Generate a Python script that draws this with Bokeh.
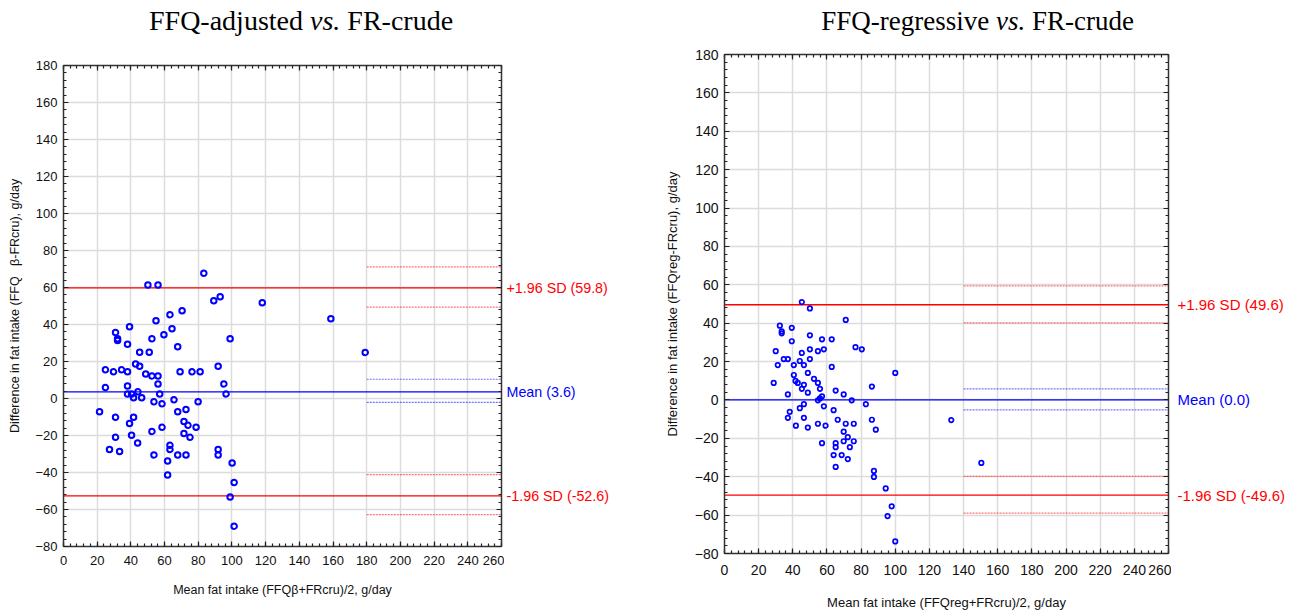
from bokeh.plotting import figure
from bokeh.layouts import row, column
from bokeh.models import LinearAxis, SingleIntervalTicker, Range1d, ColumnDataSource, Grid
from bokeh.core.properties import value
from bokeh.embed import file_html
from bokeh.resources import INLINE

# ---------------- data ----------------
left_mean = [83.3, 50.1, 56.1, 89.2, 93.0, 118.0, 158.7, 63.2, 70.4, 54.9, 39.2, 64.4, 30.9, 32.1, 32.1,
             38.0, 52.5, 59.6, 98.9, 67.8, 45.2, 50.9, 42.8, 45.2, 24.9, 29.7, 34.5, 38.0, 48.8, 52.5,
             56.1, 56.1, 69.2, 76.3, 81.1, 91.8, 95.2, 96.5, 24.9, 38.0, 38.0, 40.4, 44.2, 41.6, 46.4,
             57.1, 53.7, 58.5, 65.6, 79.9, 21.4, 30.9, 41.6, 39.2, 67.8, 72.7, 71.5, 73.9, 78.7, 58.5,
             52.5, 71.5, 75.1, 40.4, 30.9, 44.0, 27.3, 33.3, 63.2, 63.2, 53.7, 67.8, 72.7, 91.8, 91.8,
             61.8, 61.8, 100.1, 101.3, 98.9, 101.3, 179.1]
left_diff = [67.7, 61.4, 61.4, 52.8, 55.0, 51.7, 43.1, 45.3, 47.4, 42.0, 38.8, 37.7, 35.7, 32.3, 31.4,
             29.3, 32.3, 34.5, 32.3, 28.0, 25.0, 25.0, 18.7, 17.4, 15.5, 14.4, 15.5, 14.4, 13.3, 12.2,
             12.2, 7.9, 14.4, 14.4, 14.4, 17.4, 7.9, 2.5, 5.9, 6.8, 2.5, 2.5, 3.6, 0.4, 0.4,
             2.5, -1.8, -2.9, -0.7, -1.8, -7.2, -10.2, -10.2, -13.5, -7.2, -5.9, -12.4, -14.5, -15.6, -15.6,
             -17.8, -18.9, -21.0, -19.9, -21.0, -24.1, -27.5, -28.6, -25.3, -27.5, -30.5, -30.5, -30.5, -27.5, -30.5,
             -33.8, -41.3, -34.9, -45.4, -53.2, -69.0, 24.9]
left_levels = [59.8, 3.6, -52.6]          # +1.96 SD, mean, -1.96 SD
left_ci = [(71.2, 49.4), (10.4, -2.1), (-41.2, -62.8)]
left_ci_start = 180

right_mean = [45.3, 50.0, 71.0, 32.4, 33.5, 33.5, 39.4, 39.4, 50.0, 57.1, 62.8, 30.0, 45.3, 50.0, 54.7,
              58.2, 76.7, 80.4, 31.2, 34.7, 37.1, 40.6, 44.1, 46.5, 50.0, 62.8, 40.6, 41.6, 42.9, 28.8,
              48.8, 52.4, 54.7, 46.5, 45.3, 55.9, 48.8, 37.1, 57.1, 55.9, 54.7, 65.1, 69.8, 74.5, 82.8,
              86.3, 100.0, 46.5, 58.2, 44.1, 63.9, 38.2, 37.1, 46.5, 66.3, 86.3, 41.8, 48.8, 54.7, 59.2,
              71.0, 75.7, 88.6, 69.8, 72.2, 69.8, 75.7, 57.1, 65.1, 65.1, 73.4, 63.9, 68.6, 72.2, 65.1,
              87.5, 87.5, 94.4, 97.9, 95.5, 100.0, 132.8, 150.4]
right_diff = [51.0, 47.7, 41.7, 38.7, 35.7, 34.7, 37.6, 30.6, 33.7, 31.6, 31.6, 25.4, 24.5, 26.4, 25.4,
              26.4, 27.5, 26.4, 18.2, 21.3, 21.3, 18.2, 20.3, 18.2, 21.3, 17.2, 13.0, 9.9, 8.9, 8.9,
              14.1, 11.0, 8.9, 7.9, 5.8, 5.8, 3.8, 2.9, 1.9, 0.8, -0.2, 4.9, 2.9, -0.2, -2.2,
              7.0, 14.1, -2.2, -3.3, -4.3, -5.3, -6.2, -9.3, -9.3, -10.3, -10.3, -13.4, -14.4, -12.4, -13.4,
              -12.4, -12.4, -15.5, -16.5, -19.4, -21.5, -21.5, -22.5, -22.5, -24.6, -24.6, -28.7, -28.7, -30.8, -34.9,
              -37.0, -40.1, -46.1, -55.4, -60.5, -73.7, -10.5, -32.8]
right_levels = [49.6, 0.0, -49.6]
right_ci = [(59.4, 40.2), (5.8, -5.2), (-39.8, -59.0)]
right_ci_start = 140

level_texts_left = ["+1.96 SD (59.8)", "Mean (3.6)", "-1.96 SD (-52.6)"]
level_texts_right = ["+1.96 SD (49.6)", "Mean (0.0)", "-1.96 SD (-49.6)"]
level_colors = ["#ff0000", "#0000ff", "#ff0000"]

titles_left = ["FFQ-adjusted", "vs.", "FR-crude"]
titles_right = ["FFQ-regressive", "vs.", "FR-crude"]

X_RANGE = (0, 260)
Y_RANGE = (-80, 180)

SANS = "Liberation Sans"
SERIF = "Liberation Serif"


def style_axis(ax, show_labels, tick_fs, lab_fs):
    ax.ticker = SingleIntervalTicker(interval=20, num_minor_ticks=5)
    ax.axis_line_color = "#333333"
    ax.axis_line_width = 1.5
    ax.major_tick_in = 5
    ax.major_tick_out = 0
    ax.minor_tick_in = 3
    ax.minor_tick_out = 0
    ax.major_tick_line_color = "#222222"
    ax.minor_tick_line_color = "#222222"
    ax.major_tick_line_width = 1.2
    ax.minor_tick_line_width = 1.2
    ax.major_label_text_font = SANS
    ax.major_label_text_color = "#111111"
    if show_labels:
        ax.major_label_text_font_size = f"{tick_fs}px"
    else:
        ax.major_label_text_font_size = "1px"
        ax.major_label_text_alpha = 0
        ax.major_label_standoff = 0
    ax.axis_label_text_font = SANS
    ax.axis_label_text_font_style = "normal"
    ax.axis_label_text_font_size = f"{lab_fs}px"
    ax.axis_label_text_color = "#111111"


def make_panel(xs, ys, levels, ci, ci_start, texts, title_parts, xlabel, ylabel,
               bl, fw, br, bt, fh, bb, lab_w, lab_off, title_h, title_base, vs_left,
               tick_fs, lab_fs, lvl_fs, marker_size, marker_lw, tfs,
               xt_standoff, xl_standoff, yl_standoff):
    yr = Range1d(*Y_RANGE)
    p = figure(output_backend="svg", toolbar_location=None,
               width=bl + fw + br, height=bt + fh + bb,
               min_border_left=bl, min_border_right=br,
               min_border_top=bt, min_border_bottom=bb,
               x_range=Range1d(*X_RANGE), y_range=yr,
               x_axis_type=None, y_axis_type=None,
               background_fill_color="white", border_fill_color="white",
               outline_line_color=None)

    bottom = LinearAxis(axis_label=xlabel)
    style_axis(bottom, True, tick_fs, lab_fs)
    bottom.major_label_standoff = xt_standoff
    bottom.axis_label_standoff = xl_standoff
    left = LinearAxis(axis_label=ylabel)
    style_axis(left, True, tick_fs, lab_fs)
    left.major_label_standoff = 6
    left.axis_label_standoff = yl_standoff
    top = LinearAxis()
    style_axis(top, False, tick_fs, lab_fs)
    right = LinearAxis()
    style_axis(right, False, tick_fs, lab_fs)
    p.add_layout(bottom, "below")
    p.add_layout(left, "left")
    p.add_layout(top, "above")
    p.add_layout(right, "right")

    p.add_layout(Grid(dimension=0, ticker=bottom.ticker, grid_line_color="#dcdcdc", grid_line_width=1.5))
    p.add_layout(Grid(dimension=1, ticker=left.ticker, grid_line_color="#dcdcdc", grid_line_width=1.5))

    # CI dashed segments
    seg_y = [v for pair in ci for v in pair]
    seg_c = [c for c in level_colors for _ in range(2)]
    seg_src = ColumnDataSource(dict(x0=[ci_start] * len(seg_y), x1=[X_RANGE[1]] * len(seg_y),
                                    y=seg_y, c=seg_c))
    p.segment(x0="x0", y0="y", x1="x1", y1="y", source=seg_src, line_color="c",
              line_alpha=0.55, line_width=1.2, line_dash="2 1")

    # mean and limits of agreement
    lv_src = ColumnDataSource(dict(x0=[X_RANGE[0]] * 3, x1=[X_RANGE[1]] * 3, y=levels, c=level_colors))
    p.segment(x0="x0", y0="y", x1="x1", y1="y", source=lv_src, line_color="c", line_width=1.3)

    p.scatter(xs, ys, marker="circle", size=marker_size, fill_color=None,
              line_color="#0000ff", line_width=marker_lw)

    # label strip on the right, sharing the y range
    q = figure(output_backend="svg", toolbar_location=None,
               width=lab_w, height=bt + fh + bb,
               min_border_left=0, min_border_right=0,
               min_border_top=bt, min_border_bottom=bb,
               x_range=Range1d(0, lab_w), y_range=yr,
               x_axis_type=None, y_axis_type=None,
               background_fill_color="white", border_fill_color="white",
               outline_line_color=None)
    q.xgrid.visible = False
    q.ygrid.visible = False
    q.text(x=[lab_off] * 3, y=levels, text=texts, text_color=level_colors,
           text_font=value(SANS), text_font_size=f"{lvl_fs}px",
           text_baseline="middle", text_align="left")

    # title strip
    tw = bl + fw + br + lab_w
    t = figure(output_backend="svg", toolbar_location=None,
               width=tw, height=title_h,
               min_border_left=0, min_border_right=0, min_border_top=0, min_border_bottom=0,
               x_range=Range1d(0, tw), y_range=Range1d(title_h, 0),
               x_axis_type=None, y_axis_type=None,
               background_fill_color="white", border_fill_color="white",
               outline_line_color=None)
    t.xgrid.visible = False
    t.ygrid.visible = False
    space = 0.25 * tfs
    vs_w = 1.083 * tfs
    t.text(x=[vs_left - space], y=[title_base], text=[title_parts[0]], text_font=value(SERIF),
           text_font_size=f"{tfs}px", text_align="right", text_baseline="alphabetic", text_color="black")
    t.text(x=[vs_left], y=[title_base], text=[title_parts[1]], text_font=value(SERIF),
           text_font_style="italic",
           text_font_size=f"{tfs}px", text_align="left", text_baseline="alphabetic", text_color="black")
    t.text(x=[vs_left + vs_w + space], y=[title_base], text=[title_parts[2]], text_font=value(SERIF),
           text_font_size=f"{tfs}px", text_align="left", text_baseline="alphabetic", text_color="black")

    return column(t, row(p, q))


panel1 = make_panel(left_mean, left_diff, left_levels, left_ci, left_ci_start, level_texts_left,
                    titles_left,
                    "Mean fat intake (FFQ\u03b2+FRcru)/2, g/day",
                    "Difference in fat intake (FFQ\u00a0\u00a0\u00a0\u03b2-FRcru), g/day",
                    63, 438, 3, 25, 483, 51, 155, 2, 40, 20, 309.5,
                    13, 12.5, 14.3, 5.5, 2.0, 28, 9, 15, 10)
panel2 = make_panel(right_mean, right_diff, right_levels, right_ci, right_ci_start, level_texts_right,
                    titles_right,
                    "Mean fat intake (FFQreg+FRcru)/2, g/day",
                    "Difference in fat intake (FFQreg-FRcru), g/day",
                    65, 444, 3, 18, 504, 54, 116, 6, 36, 20, 336.5,
                    14, 13, 15, 4.5, 1.7, 27, 11, 17, 12)

layout = row(panel1, panel2)
open("out.html", "w").write(file_html(layout, INLINE))
